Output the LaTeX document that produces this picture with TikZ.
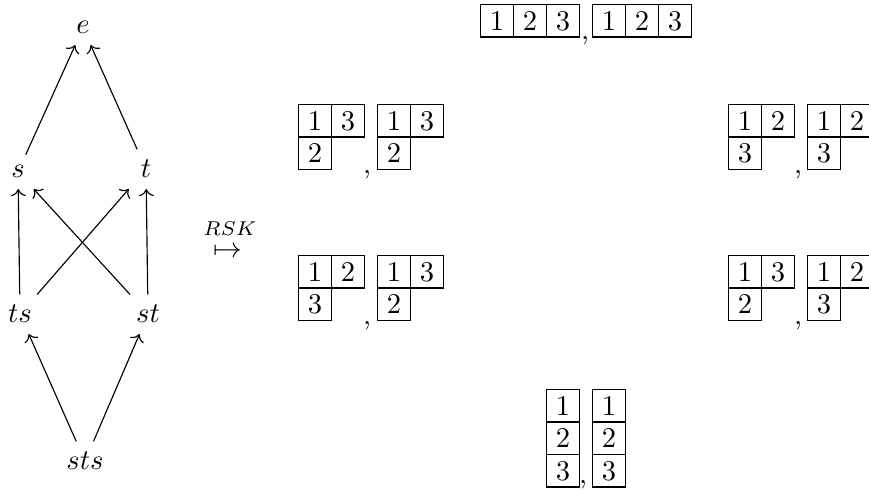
\documentclass[tikz,border=0pt]{standalone}
\usetikzlibrary{cd}
\begin{document}
\begin{tikzpicture}[x=0.35pt,y=-0.35pt,
  vx/.style={inner xsep=1ex, inner ysep=0.85ex, anchor=base},
  cell/.style={draw, line width=0.4pt, minimum width=11.55pt, minimum height=11.375pt, inner sep=0pt, anchor=north west},
  commanode/.style={inner sep=0pt, anchor=base},
  arr/.style={-cm to, line width=0.4pt}
]
\useasboundingbox (0,0) rectangle (869,490);
% poset graph
\node[vx] (e) at (83,34) {$e$};
\node[vx] (s) at (18,178) {$s$};
\node[vx] (t) at (146,178) {$t$};
\node[vx] (ts) at (20,323) {$ts$};
\node[vx] (st) at (148,323) {$st$};
\node[vx] (sts) at (85,470) {$sts$};
\draw[arr] (s) -- (e);
\draw[arr] (t) -- (e);
\draw[arr] (ts) -- (s);
\draw[arr] (ts) -- (t);
\draw[arr] (st) -- (s);
\draw[arr] (st) -- (t);
\draw[arr] (sts) -- (ts);
\draw[arr] (sts) -- (st);
% RSK
\node[inner sep=0pt, anchor=base] (rsk) at (230,236) {$\scriptstyle RSK$};
\node[inner sep=0pt] (mapsarrow) at (228,252) {$\mapsto$};
% top pair
\node[cell] (a1) at (480,4) {1};
\node[cell] (a2) at (513,4) {2};
\node[cell] (a3) at (546,4) {3};
\node[commanode] (ca) at (585,40) {,};
\node[cell] (b1) at (592,4) {1};
\node[cell] (b2) at (625,4) {2};
\node[cell] (b3) at (658,4) {3};
% upper left pair
\node[cell] (c1) at (298,104) {1};
\node[cell] (c2) at (331,104) {3};
\node[cell] (c3) at (298,136.5) {2};
\node[commanode] (cc) at (367,174) {,};
\node[cell] (d1) at (377,104) {1};
\node[cell] (d2) at (410,104) {3};
\node[cell] (d3) at (377,136.5) {2};
% upper right pair
\node[cell] (e1) at (728,104) {1};
\node[cell] (e2) at (761,104) {2};
\node[cell] (e3) at (728,136.5) {3};
\node[commanode] (ce) at (798,174) {,};
\node[cell] (f1) at (807,104) {1};
\node[cell] (f2) at (840,104) {2};
\node[cell] (f3) at (807,136.5) {3};
% lower left pair
\node[cell] (g1) at (298,255) {1};
\node[cell] (g2) at (331,255) {2};
\node[cell] (g3) at (298,287.5) {3};
\node[commanode] (cg) at (367,325) {,};
\node[cell] (h1) at (377,255) {1};
\node[cell] (h2) at (410,255) {3};
\node[cell] (h3) at (377,287.5) {2};
% lower right pair
\node[cell] (i1) at (728,255) {1};
\node[cell] (i2) at (761,255) {3};
\node[cell] (i3) at (728,287.5) {2};
\node[commanode] (ci) at (798,325) {,};
\node[cell] (j1) at (807,255) {1};
\node[cell] (j2) at (840,255) {2};
\node[cell] (j3) at (807,287.5) {3};
% bottom pair
\node[cell] (k1) at (546,389) {1};
\node[cell] (k2) at (546,421.5) {2};
\node[cell] (k3) at (546,454) {3};
\node[commanode] (ck) at (583,484) {,};
\node[cell] (l1) at (592,389) {1};
\node[cell] (l2) at (592,421.5) {2};
\node[cell] (l3) at (592,454) {3};
\end{tikzpicture}
\end{document}
